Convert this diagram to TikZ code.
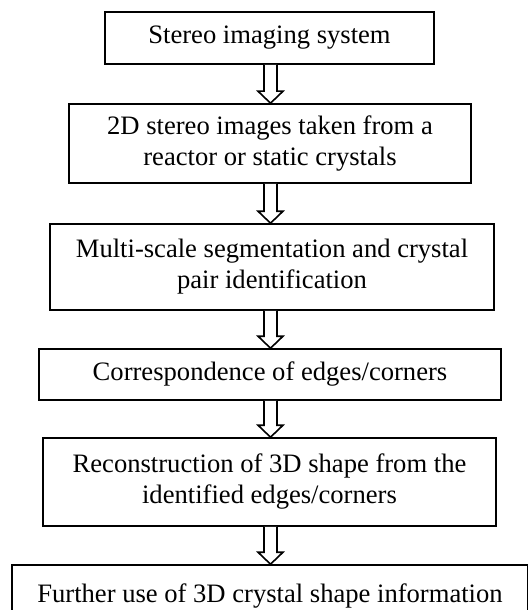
\documentclass[tikz,border=0pt]{standalone}
\usepackage{fontspec}
\setmainfont{Liberation Serif}
\usepackage{tikz}
\usetikzlibrary{calc}
\usetikzlibrary{positioning}

% hollow block arrow between two boxes, on the common axis
\newcommand{\flowarrow}[2]{%
  \draw[hollowarrow] ($(#1.south -| axis)+(-6.5,0)$) -- ($(#2.north -| axis)+(-6.5,-12)$)
    -- ($(#2.north -| axis)+(-12.5,-12)$) -- (#2.north -| axis)
    -- ($(#2.north -| axis)+(12.5,-12)$) -- ($(#2.north -| axis)+(6.5,-12)$)
    -- ($(#1.south -| axis)+(6.5,0)$);
}

\begin{document}
\begin{tikzpicture}[x=0.5pt, y=-0.5pt,
    stepbox/.style={draw, line width=0.8pt, rectangle, align=center, inner sep=0pt,
      font=\fontsize{13.3}{15.5}\selectfont},
    hollowarrow/.style={draw, line width=0.8pt, fill=white, line join=miter}]
            \useasboundingbox (0,0) rectangle (527,610);
            \coordinate (axis) at (270.5,0);

            % Steps of the procedure
            \node[stepbox, minimum width=164.5pt, minimum height=26pt] (imaging) at (269.5,38) {Stereo imaging system};
            \node[stepbox, minimum width=201pt, minimum height=39.5pt] (images) at (270,143.5) {2D stereo images taken from a\\reactor or static crystals};
            \node[stepbox, minimum width=222pt, minimum height=43pt] (segment) at (272,267) {Multi-scale segmentation and crystal\\pair identification};
            \node[stepbox, minimum width=231pt, minimum height=25.5pt] (corresp) at (270,374.5) {Correspondence of edges/corners};
            \node[stepbox, minimum width=226.5pt, minimum height=44pt] (recon) at (269.5,482) {Reconstruction of 3D shape from the\\identified edges/corners};
            \node[stepbox, minimum width=258pt, minimum height=31pt] (further) at (270,596) {Further use of 3D crystal shape information};

            % Arrows
            \flowarrow{imaging}{images}
            \flowarrow{images}{segment}
            \flowarrow{segment}{corresp}
            \flowarrow{corresp}{recon}
            \flowarrow{recon}{further}

        \end{tikzpicture}
\end{document}
